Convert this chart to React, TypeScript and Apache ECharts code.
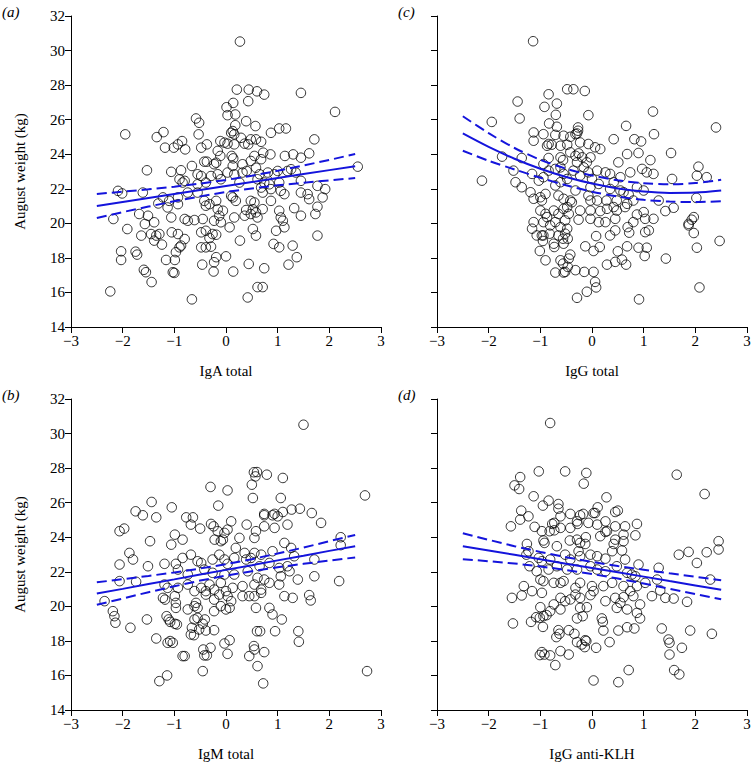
import React, { useEffect, useRef } from "react";
import * as echarts from "echarts";

const W = 754;
const H = 763;
const BLUE = "#1414dc";
const FONT = "Liberation Serif";

const panelTitles = ["IgA total", "IgG total", "IgM total", "IgG anti-KLH"];
const panelTags = ["(a)", "(c)", "(b)", "(d)"];
const yTitle = "August weight (kg)";

const fitX = [-2.5, -2, -1.5, -1, -0.5, 0, 0.5, 1, 1.5, 2, 2.5];

const aFit = [21.0, 21.24, 21.47, 21.7, 21.93, 22.16, 22.39, 22.62, 22.85, 23.08, 23.31];
const aUpper = [21.7, 21.83, 21.97, 22.12, 22.3, 22.51, 22.76, 23.04, 23.35, 23.67, 24.01];
const aLower = [20.31, 20.65, 20.97, 21.28, 21.56, 21.81, 22.02, 22.2, 22.35, 22.49, 22.62];

const cFit = [25.2, 24.42, 23.74, 23.16, 22.68, 22.3, 22.02, 21.84, 21.76, 21.78, 21.9];
const cUpper = [26.2, 25.22, 24.36, 23.68, 23.16, 22.77, 22.49, 22.32, 22.26, 22.33, 22.52];
const cLower = [24.2, 23.62, 23.12, 22.64, 22.2, 21.83, 21.55, 21.36, 21.26, 21.23, 21.28];

const bFit = [20.74, 21.01, 21.29, 21.56, 21.84, 22.11, 22.38, 22.66, 22.93, 23.21, 23.48];
const bUpper = [21.39, 21.57, 21.76, 21.96, 22.19, 22.44, 22.73, 23.06, 23.4, 23.77, 24.13];
const bLower = [20.09, 20.45, 20.82, 21.16, 21.49, 21.78, 22.03, 22.26, 22.46, 22.65, 22.83];

const dFit = [23.48, 23.23, 22.98, 22.73, 22.47, 22.22, 21.97, 21.72, 21.46, 21.21, 20.96];
const dUpper = [24.23, 23.85, 23.48, 23.15, 22.84, 22.57, 22.33, 22.12, 21.91, 21.71, 21.51];
const dLower = [22.73, 22.61, 22.48, 22.31, 22.1, 21.87, 21.61, 21.32, 21.01, 20.71, 20.41];

const pointsA: number[][] = [
  [0.27,30.52],[0.21,27.74],[0.44,27.74],[0.6,27.64],[0.74,27.45],[1.45,27.55],[0.43,27.07],[0.14,26.97],[0.01,26.72],[0.18,26.3],[0.03,26.26],[2.11,26.45],[-0.58,26.07],[-0.52,25.82],[0.18,25.68],[0.39,25.91],[0.57,25.63],
  [-1.95,25.15],[-1.34,24.99],[-1.21,25.28],[-1.18,24.38],[-1.01,24.38],[-0.93,24.57],[-0.85,24.76],[-0.79,24.28],[-0.53,25.15],[-0.48,24.38],[-0.37,24.57],[-0.11,24.76],[-0.03,24.67],[0.03,24.61],[0.16,24.57],[0.16,25.15],[0.13,25.34],[0.1,25.24],[0.29,24.95],[0.36,24.61],[0.43,24.57],[0.48,24.86],[0.58,24.86],[0.68,24.72],[0.87,25.24],[1.03,25.49],[1.16,25.49],[1.71,24.86],[-0.16,24.19],[-0.11,23.9],[0.11,23.9],[0.14,23.76],[-0.42,23.57],[-0.37,23.57],[-0.23,23.42],[-0.19,23.51],[0.13,23.32],[0.32,23.42],[0.48,23.61],[0.55,23.9],[0.68,23.71],[0.72,24.09],[0.86,23.99],[1.14,23.9],[1.3,23.99],[1.45,23.8],[1.61,24.05],[2.55,23.28],[-1.53,23.07],[-1.06,22.98],[-0.87,23.07],[-0.66,23.32],[-0.55,22.84],[-0.48,22.74],[-0.29,22.74],[-0.16,22.84],[-0.1,22.55],[0.03,22.94],[0.16,22.84],[0.32,22.94],[0.4,23.03],[0.58,23.22],[0.65,22.84],[0.81,22.94],[0.94,22.84],[1.0,23.03],[1.19,23.03],[1.26,23.13],[1.35,22.94],[1.45,22.46],[-0.9,22.55],[-0.84,22.36],[-0.8,22.46],[-0.55,22.26],[-0.39,22.36],[0.26,22.36],[0.61,22.55],[0.74,22.36],[0.84,22.26],[1.03,22.36],[-2.09,21.88],[-2.01,21.73],[-1.61,21.78],[-1.22,21.5],[-1.1,21.3],[-0.93,21.5],[-0.74,21.78],[-0.55,21.78],[-0.42,21.3],[-0.19,21.3],[0.1,21.59],[0.13,21.5],[0.19,21.3],[0.48,21.3],[0.55,21.21],[0.68,22.07],[0.71,21.78],[0.87,21.98],[0.87,21.3],[1.06,21.88],[1.13,21.69],[1.45,21.78],[1.58,21.69],[1.61,21.4],[1.77,22.17],[1.87,21.5],[1.92,21.98],[-1.31,21.15],[-1.13,20.92],[-0.93,21.11],[-0.39,21.02],[-0.32,21.11],[-0.16,20.82],[-0.06,20.73],[-0.13,20.44],[0.39,20.77],[0.52,20.82],[0.58,20.63],[0.71,20.82],[1.03,20.73],[1.32,20.88],[1.77,20.96],[1.73,20.54],[-2.18,20.25],[-1.68,20.54],[-1.51,20.44],[-1.39,20.06],[-1.06,20.34],[-0.8,20.25],[-0.74,20.15],[-0.61,20.19],[-0.45,20.25],[-0.23,20.15],[-0.1,20.06],[0.16,20.34],[0.36,20.44],[0.48,20.54],[0.61,20.34],[1.06,20.34],[1.1,20.15],[1.45,20.44],
  [-1.91,19.67],[-1.57,19.96],[-1.64,19.29],[-1.45,19.38],[-1.35,19.29],[-1.29,19.38],[-1.39,19.0],[-1.24,18.77],[-1.05,19.48],[-0.93,19.38],[-0.8,19.09],[-0.87,18.71],[-0.9,18.61],[0.07,19.77],[-0.48,19.48],[-0.39,19.57],[-0.32,19.15],[-0.26,19.38],[-0.19,19.34],[-0.48,18.61],[-0.39,18.61],[-0.29,18.65],[0.52,19.67],[0.58,19.29],[0.27,19.0],[0.97,19.57],[1.13,19.77],[0.92,18.81],[1.03,18.61],[1.29,18.71],[1.77,19.29],[-2.03,18.38],[-2.03,17.88],[-1.75,18.36],[-1.72,18.19],[-1.16,17.88],[-0.99,17.88],[-0.97,18.33],[-0.46,17.61],[-0.19,18.04],[-0.23,17.75],[0.0,18.09],[-0.24,17.21],[0.14,17.21],[0.44,17.65],[0.74,17.4],[1.21,17.61],[1.37,18.04],[-1.59,17.31],[-1.55,17.17],[-1.44,16.6],[-1.03,17.17],[-1.0,17.13],[-2.24,16.06],[-0.66,15.6],[0.42,15.71],[0.61,16.31],[0.71,16.31]
];

const pointsC: number[][] = [
  [-1.14,30.54],[-0.48,27.76],[-0.36,27.76],[-0.14,27.66],[-0.84,27.47],[-1.44,27.05],[-0.92,26.74],[-0.68,26.93],[-0.7,26.28],[-0.07,26.26],[-1.4,26.07],[1.18,26.47],[-1.94,25.87],[-0.83,25.78],[-0.68,25.59],[-0.27,25.55],[0.66,25.64],[2.4,25.55],
  [-0.27,25.36],[-0.29,25.2],[-0.32,25.16],[-1.13,25.26],[-0.94,25.16],[-0.71,25.12],[-0.55,25.07],[-0.42,25.01],[-1.13,24.78],[-0.84,24.59],[-0.87,24.49],[-0.78,24.55],[-0.61,24.49],[-0.48,24.55],[-0.23,24.68],[-0.07,24.59],[0.06,24.4],[0.16,24.3],[0.42,24.87],[0.82,24.87],[0.95,24.74],[1.2,25.16],[0.68,24.01],[0.9,24.07],[1.53,24.07],[-1.74,23.86],[-1.36,23.78],[-0.84,23.78],[-0.61,23.82],[-0.56,23.66],[-0.42,24.11],[-0.32,23.91],[-0.26,24.05],[-0.19,23.82],[-0.1,23.53],[-0.03,23.82],[0.51,23.53],[1.13,23.66],[2.06,23.28],[-2.13,22.47],[-1.52,23.05],[-1.48,22.38],[-1.36,22.09],[-1.16,22.86],[-1.03,22.47],[-0.94,23.43],[-0.84,23.05],[-0.71,23.15],[-0.61,23.24],[-0.55,22.86],[-0.36,23.05],[-0.29,23.53],[-0.23,22.76],[-0.16,23.24],[-0.07,22.95],[0.0,22.57],[0.1,23.05],[0.26,22.95],[0.35,22.86],[0.42,22.38],[0.55,22.67],[0.74,22.95],[0.97,23.15],[1.06,22.95],[1.19,22.86],[1.55,22.57],[2.03,22.76],[2.22,22.67],[-0.94,22.67],[-0.71,22.19],[-0.61,22.38],[-0.48,22.57],[-0.32,21.9],[-0.03,22.09],[0.13,22.28],[0.35,21.99],[0.55,21.9],[0.61,21.8],[0.71,21.67],[0.87,22.09],[1.0,21.9],[1.29,21.32],[2.02,21.47],[-1.19,21.8],[-1.13,21.42],[-1.0,21.51],[-0.97,21.32],[-0.9,21.7],[-0.65,21.61],[-0.55,21.42],[-0.42,21.32],[-0.39,21.22],[-0.07,21.61],[-0.03,21.32],[0.1,21.32],[0.28,21.32],[0.48,21.32],[0.68,21.13],[0.8,21.32],[-1.0,20.74],[-0.9,20.55],[-0.87,20.36],[-0.74,20.74],[-0.65,20.55],[-0.55,20.84],[-0.48,20.94],[-0.45,20.55],[-0.23,20.74],[-0.03,20.74],[0.16,20.71],[0.29,20.84],[0.42,20.94],[0.48,20.74],[0.64,20.94],[0.87,20.51],[1.0,20.65],[1.19,20.26],[1.42,20.71],[1.58,20.9],[1.97,20.36],[1.93,20.21],[-1.13,20.07],[-0.94,20.07],[-0.71,20.07],[-0.52,20.17],[-0.26,20.21],[-0.03,20.26],[0.13,20.07],[0.26,20.07],[0.45,20.26],[0.8,20.07],[1.03,20.26],[1.87,19.97],
  [-1.16,19.69],[-1.07,19.3],[-0.97,19.3],[-0.94,19.3],[-0.95,18.98],[-0.81,19.88],[-0.82,19.4],[-0.74,18.82],[-0.73,18.63],[-0.61,19.78],[-0.65,19.3],[-0.56,19.11],[-0.55,18.82],[-0.52,19.4],[-0.48,19.69],[-0.47,19.11],[0.08,19.26],[0.35,19.3],[0.45,19.59],[0.69,19.78],[0.72,19.46],[1.03,19.49],[1.1,19.59],[1.87,19.88],[1.97,19.44],[2.47,18.98],[-0.13,18.67],[0.03,18.4],[0.15,18.63],[0.68,18.67],[0.9,18.59],[1.06,18.59],[1.02,18.11],[-1.01,18.4],[-0.9,17.86],[-0.71,17.15],[-0.61,17.86],[-0.56,17.67],[-0.55,17.15],[-0.52,17.19],[-0.47,17.48],[-0.45,17.96],[-0.42,18.19],[-0.32,17.29],[-0.15,17.19],[0.03,17.19],[0.29,17.61],[0.45,17.77],[0.5,18.38],[0.58,17.9],[0.66,17.61],[1.43,17.96],[2.03,18.59],[0.06,16.61],[0.08,16.29],[-0.1,16.04],[-0.29,15.69],[0.91,15.6],[2.08,16.29]
];

const pointsB: number[][] = [
  [1.5,30.51],[0.54,27.76],[0.6,27.77],[0.57,27.52],[0.79,27.62],[1.1,27.43],[-0.3,26.91],[0.03,26.71],[0.5,27.04],[0.52,26.27],[1.06,26.27],[2.69,26.42],[-1.44,26.04],[-1.05,25.73],[-0.15,25.83],[-1.75,25.5],[0.74,25.35],[0.94,25.35],[1.1,25.46],[1.27,25.6],[1.43,25.65],[1.66,25.4],
  [-1.61,25.27],[-1.35,25.15],[-0.77,25.15],[-0.64,25.15],[-0.68,24.73],[-0.5,24.5],[-0.29,24.77],[-0.24,24.63],[0.03,24.44],[0.1,24.92],[-0.16,24.35],[-0.03,24.25],[0.4,24.73],[0.58,24.35],[0.55,23.96],[0.74,25.27],[0.9,25.27],[1.0,25.21],[1.84,24.83],[0.74,24.63],[0.94,24.54],[1.19,24.73],[-2.06,24.35],[-1.97,24.5],[-1.47,23.77],[-1.06,23.57],[-0.99,24.15],[-0.84,23.86],[-0.22,23.86],[-0.1,23.77],[-0.06,23.86],[0.26,23.96],[0.19,23.38],[0.36,23.09],[0.55,23.09],[0.68,22.99],[0.9,23.19],[1.13,23.67],[1.26,23.38],[2.22,24.0],[2.22,23.54],[-1.87,23.09],[-1.8,22.71],[-2.06,22.42],[-1.51,22.32],[-1.19,22.46],[-0.97,22.46],[-0.84,22.8],[-0.68,22.99],[-0.55,22.61],[-0.48,22.51],[-0.26,22.71],[-0.13,22.99],[-0.03,22.71],[0.03,22.46],[0.16,22.8],[0.39,22.71],[0.48,22.8],[0.65,22.32],[0.84,22.51],[1.03,22.22],[1.19,22.32],[1.32,22.9],[1.71,22.71],[-0.93,22.13],[-0.74,21.84],[-0.42,22.13],[-0.26,21.94],[-0.03,21.84],[0.16,21.84],[0.42,22.03],[0.61,21.65],[0.74,21.55],[1.06,21.74],[1.23,22.03],[1.39,21.55],[1.71,21.74],[2.19,21.46],[-2.06,21.46],[-1.74,21.42],[-1.19,21.26],[-1.13,21.07],[-0.93,21.07],[-0.74,21.26],[-0.48,21.07],[-0.39,20.88],[-0.32,21.26],[-0.23,20.97],[-0.1,21.36],[0.0,20.88],[0.13,21.07],[0.32,21.17],[0.55,21.26],[0.68,20.97],[0.84,21.36],[1.03,21.26],[-2.35,20.3],[-1.22,20.49],[-1.18,20.39],[-0.99,20.59],[-0.97,20.2],[-0.61,20.88],[-0.58,20.2],[-0.39,20.68],[-0.23,20.39],[-0.13,20.68],[0.03,20.59],[0.1,20.3],[0.32,20.59],[0.45,20.59],[0.55,20.59],[0.68,20.78],[1.13,20.59],[1.29,20.49],[1.61,20.65],[1.64,20.34],[-2.19,19.72],[-0.97,19.91],[-0.74,19.82],[-0.61,20.01],[-0.55,19.91],[-0.23,19.72],[-0.1,20.01],[0.0,19.82],[0.07,19.91],[0.58,19.91],[0.84,19.91],
  [-2.16,19.43],[-2.14,19.05],[-1.85,18.76],[-1.53,19.24],[-1.15,19.43],[-1.11,19.24],[-1.08,19.1],[-0.99,18.99],[-0.95,18.95],[-0.61,19.24],[-0.66,18.76],[-0.68,18.37],[-0.62,18.33],[-0.55,19.33],[-0.52,18.66],[-0.41,19.24],[-0.39,18.6],[-0.45,18.99],[-0.23,18.62],[0.9,19.53],[1.08,19.24],[0.6,18.56],[0.66,18.56],[0.95,18.56],[1.4,18.56],[1.41,17.95],[-1.35,18.14],[-1.13,17.89],[-1.03,17.89],[-1.08,17.99],[-0.03,17.85],[0.07,18.04],[-0.44,17.5],[-0.3,17.6],[-0.42,17.16],[-0.37,17.16],[-0.84,17.12],[-0.8,17.12],[0.03,17.25],[0.45,17.12],[0.54,17.7],[0.55,17.5],[0.74,17.35],[0.61,16.54],[-0.45,16.25],[-1.14,16.0],[-1.29,15.67],[0.72,15.54],[2.73,16.25]
];

const pointsD: number[][] = [
  [-0.81,30.61],[-1.03,27.81],[-0.52,27.81],[-0.11,27.72],[-0.16,27.1],[-1.39,27.48],[-1.5,27.0],[-1.41,26.79],[-1.13,26.37],[-0.84,26.12],[-0.95,25.83],[-0.65,25.92],[-0.65,25.65],[0.28,26.31],[0.11,25.73],[1.64,27.62],[2.18,26.5],[-1.37,25.54],[-0.42,25.35],[-0.17,25.35],[0.03,25.4],[0.45,25.46],[0.5,25.54],
  [-1.39,25.02],[-1.23,25.21],[-1.57,24.63],[-0.61,25.21],[-0.23,25.27],[0.06,25.4],[-0.77,24.77],[-0.73,24.83],[-0.73,24.4],[-0.61,24.54],[-1.11,24.6],[-0.97,24.35],[-0.82,24.35],[-0.42,24.54],[-0.29,24.92],[-0.28,24.77],[-0.07,24.83],[0.1,24.73],[0.26,24.92],[0.29,24.35],[0.16,24.06],[0.26,24.31],[0.45,24.63],[0.64,24.63],[0.61,24.15],[0.87,24.77],[0.84,24.11],[-1.26,23.61],[-1.23,23.19],[-0.92,23.67],[-0.94,23.81],[-0.68,23.48],[-0.43,23.81],[-0.29,23.86],[-0.23,23.67],[-0.12,24.0],[-0.13,23.61],[0.45,23.86],[0.42,23.61],[0.61,23.77],[-1.27,22.99],[-1.03,22.8],[-0.97,22.61],[-0.81,22.71],[-0.52,22.99],[-0.42,22.71],[-0.26,23.19],[-0.23,22.9],[-0.03,22.99],[0.1,22.9],[0.26,22.76],[0.39,23.19],[0.58,23.23],[0.64,22.71],[0.9,22.42],[1.29,22.23],[1.68,22.99],[1.87,23.15],[2.03,22.51],[2.22,23.13],[2.45,23.77],[2.45,23.29],[-1.21,22.32],[-1.07,22.03],[-0.84,22.13],[-0.68,22.32],[-0.48,22.13],[-0.29,22.13],[-0.03,22.32],[0.1,22.13],[0.26,22.03],[0.48,22.32],[0.68,21.94],[0.77,21.84],[0.84,21.74],[1.03,21.36],[1.26,21.55],[2.29,21.55],[-1.32,21.17],[-1.16,20.88],[-1.0,21.55],[-0.94,21.46],[-0.74,21.36],[-0.61,21.36],[-0.55,21.46],[-0.32,21.07],[-0.23,21.36],[0.0,21.17],[0.22,21.17],[0.39,21.36],[0.61,21.17],[0.74,20.88],[0.87,21.17],[1.32,20.92],[-1.55,20.49],[-1.36,20.63],[-0.97,20.78],[-0.74,20.11],[-0.61,20.49],[-0.52,20.3],[-0.42,20.4],[-0.32,20.68],[-0.23,20.49],[-0.03,20.65],[0.03,20.88],[0.26,20.3],[0.45,20.49],[0.55,20.2],[0.61,20.53],[0.8,20.59],[0.93,20.11],[1.16,20.59],[1.42,20.49],[1.58,20.45],[1.84,20.26],[-1.0,19.95],[-0.81,19.72],[-0.61,19.82],[-0.23,19.91],[-0.1,19.95],[0.48,19.91],[0.68,19.82],
  [-1.53,19.01],[-1.18,19.1],[-1.08,19.37],[-1.01,19.34],[-0.94,19.43],[-0.88,19.49],[-0.95,18.81],[-0.29,19.3],[-0.18,19.43],[0.19,19.3],[0.21,19.1],[0.22,18.6],[0.87,19.62],[0.93,19.3],[0.51,18.6],[0.68,18.79],[0.82,18.72],[1.35,18.72],[1.9,18.6],[2.32,18.41],[-0.65,18.62],[-0.63,18.41],[-0.69,18.22],[-0.45,18.62],[-0.34,18.41],[-0.29,17.93],[-0.2,17.79],[-0.14,17.64],[-0.13,18.04],[-0.11,17.99],[0.08,17.6],[0.34,17.93],[1.48,18.08],[1.5,17.89],[1.74,17.6],[1.5,17.21],[-1.01,17.18],[-0.97,17.35],[-0.92,17.21],[-0.81,17.16],[-0.61,17.41],[-0.45,17.21],[-0.71,16.6],[0.71,16.31],[1.59,16.31],[1.69,16.06],[0.03,15.71],[0.51,15.61]
];

const panels = [
  { pts: pointsA, fit: aFit, up: aUpper, lo: aLower },
  { pts: pointsC, fit: cFit, up: cUpper, lo: cLower },
  { pts: pointsB, fit: bFit, up: bUpper, lo: bLower },
  { pts: pointsD, fit: dFit, up: dUpper, lo: dLower },
];

const grids = [
  { left: 71, top: 16, width: 310, height: 311 },
  { left: 437, top: 16, width: 310, height: 311 },
  { left: 71, top: 399, width: 310, height: 311 },
  { left: 437, top: 399, width: 310, height: 311 },
];

const tagPos = [
  { x: 2, y: 4 },
  { x: 398, y: 4 },
  { x: 2, y: 387 },
  { x: 398, y: 387 },
];

export default function App() {
  const ref = useRef<HTMLDivElement>(null);
  useEffect(() => {
    if (!ref.current) return;
    const chart = echarts.init(ref.current, null, { renderer: "svg" });
    const axisText = { color: "#000", fontFamily: FONT, fontSize: 15 };
    const xAxis = grids.map((_, i) => ({
      type: "value",
      gridIndex: i,
      min: -3,
      max: 3,
      interval: 1,
      axisLine: { show: true, onZero: false, lineStyle: { color: "#000", width: 1 } },
      axisTick: { show: true, length: 6, lineStyle: { color: "#000", width: 1 } },
      axisLabel: {
        ...axisText,
        margin: 6,
        formatter: (v: number) => String(v).replace("-", "\u2212"),
      },
      splitLine: { show: false },
      name: panelTitles[i],
      nameLocation: "middle",
      nameGap: 36,
      nameTextStyle: axisText,
    }));
    const yAxis = grids.map((_, i) => ({
      type: "value",
      gridIndex: i,
      min: 14,
      max: 32,
      interval: 2,
      axisLine: { show: true, onZero: false, lineStyle: { color: "#000", width: 1 } },
      axisTick: { show: true, length: 6, lineStyle: { color: "#000", width: 1 } },
      axisLabel: { ...axisText, show: i % 2 === 0, margin: 6 },
      splitLine: { show: false },
      name: i % 2 === 0 ? yTitle : "",
      nameLocation: "middle",
      nameGap: 44,
      nameRotate: 90,
      nameTextStyle: axisText,
    }));
    const series: any[] = [];
    panels.forEach((p, i) => {
      series.push({
        type: "scatter",
        xAxisIndex: i,
        yAxisIndex: i,
        data: p.pts,
        symbol: "circle",
        symbolSize: 9.5,
        itemStyle: { color: "rgba(0,0,0,0)", borderColor: "#000", borderWidth: 1 },
        z: 2,
      });
      const mk = (vals: number[], dashed: boolean) => ({
        type: "line",
        xAxisIndex: i,
        yAxisIndex: i,
        data: fitX.map((x, k) => [x, vals[k]]),
        showSymbol: false,
        symbol: "none",
        smooth: i === 1 ? 0.3 : false,
        lineStyle: { color: BLUE, width: 2, type: dashed ? [10, 5] : "solid" },
        z: 5,
      });
      series.push(mk(p.fit, false), mk(p.up, true), mk(p.lo, true));
    });
    chart.setOption({
      animation: false,
      backgroundColor: "#fff",
      grid: grids,
      xAxis,
      yAxis,
      series,
      graphic: tagPos.map((t, i) => ({
        type: "text",
        left: t.x,
        top: t.y,
        style: { text: panelTags[i], fontFamily: FONT, fontSize: 15, fontStyle: "italic", fill: "#000" },
      })),
    });
    return () => chart.dispose();
  }, []);
  return (
    <div
      ref={ref}
      style={{ width: W, height: H, position: "absolute", left: 0, top: 0, background: "#fff" }}
    />
  );
}
